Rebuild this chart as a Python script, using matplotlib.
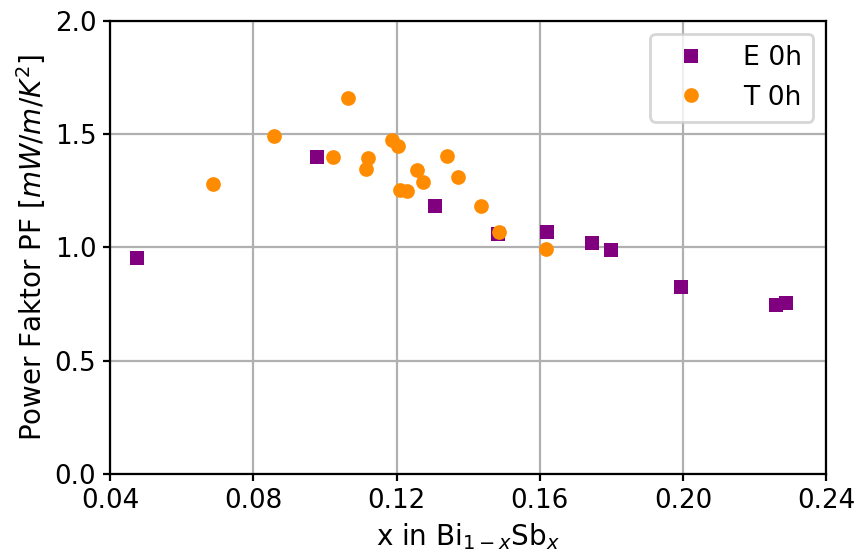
import matplotlib
matplotlib.use("Agg")
import matplotlib.pyplot as plt
import numpy as np

e_x = [0.0474, 0.0977, 0.1306, 0.1484, 0.1619, 0.1747, 0.1799, 0.1995, 0.2260, 0.2288]
e_y = [0.951, 1.400, 1.182, 1.060, 1.069, 1.019, 0.987, 0.824, 0.745, 0.754]

t_x = [0.0688, 0.0857, 0.1021, 0.1063, 0.1115, 0.1119, 0.1187, 0.1204, 0.1210, 0.1228,
       0.1258, 0.1273, 0.1340, 0.1372, 0.1436, 0.1486, 0.1616]
t_y = [1.281, 1.492, 1.397, 1.660, 1.344, 1.394, 1.473, 1.447, 1.253, 1.247,
       1.341, 1.287, 1.404, 1.309, 1.182, 1.069, 0.991]

x_ticks = [0.04, 0.08, 0.12, 0.16, 0.20, 0.24]
y_ticks = [0.0, 0.5, 1.0, 1.5, 2.0]

plt.rcParams['font.size'] = 9.4
fig = plt.figure(figsize=(4.29, 2.76), dpi=200)
ax = fig.add_axes([0.1285, 0.1413, 0.8345, 0.8212])
ax.plot(e_x, e_y, 's', color='purple', markersize=5.3, markeredgewidth=0, label='E 0h')
ax.plot(t_x, t_y, 'o', color='darkorange', markersize=5.3, markeredgewidth=0, label='T 0h')
ax.set_xlim(0.04, 0.24)
ax.set_ylim(0, 2.0)
ax.set_xticks(x_ticks)
ax.set_xticklabels([f"{v:.2f}" for v in x_ticks])
ax.set_yticks(y_ticks)
ax.set_yticklabels([f"{v:.1f}" for v in y_ticks])
ax.tick_params(length=2.4, pad=2.6)
ax.grid(True)
ax.set_axisbelow(True)
ax.set_xlabel(r"x in Bi$_{1-x}$Sb$_x$", labelpad=2.6, fontsize=10)
ax.set_ylabel(r"Power Faktor PF [$mW/m/K^2$]", labelpad=2.6, fontsize=10)
ax.legend(loc='upper right', handlelength=2.2, handletextpad=0.85, borderpad=0.42,
          fontsize=9.6)
fig.savefig("out.png", dpi=200)
